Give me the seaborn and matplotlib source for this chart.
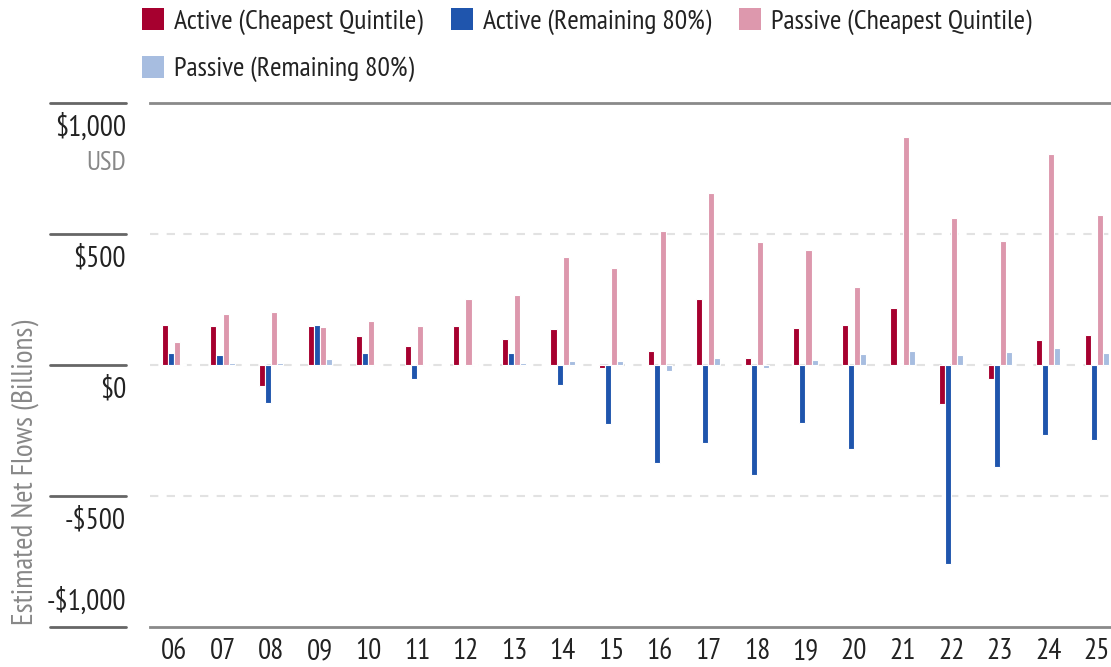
import math
import matplotlib
matplotlib.use("Agg")
import matplotlib.pyplot as plt
import seaborn as sns
import pandas as pd
from matplotlib.patches import Patch
from matplotlib import font_manager as fm

years = ["06", "07", "08", "09", "10", "11", "12", "13", "14", "15",
         "16", "17", "18", "19", "20", "21", "22", "23", "24", "25"]
active_cheap = [154, 147, -80, 150, 112, 74, 150, 99, 137, -10,
                53, 253, 27, 140, 154, 219, -150, -52, 94, 116]
active_rest = [44, 38, -146, 152, 47, -53, 3, 46, -75, -225,
               -374, -297, -419, -221, -319, 3, -761, -389, -268, -288]
passive_cheap = [89, 196, 201, 144, 168, 150, 253, 269, 414, 369,
                 510, 655, 468, 438, 298, 872, 561, 472, 807, 574]
passive_rest = [4, 7, 6, 23, 3, 2, 2, 8, 15, 14,
                -22, 25, -11, 20, 43, 53, 37, 50, 65, 47]

series_names = ["Active (Cheapest Quintile)", "Active (Remaining 80%)",
                "Passive (Cheapest Quintile)", "Passive (Remaining 80%)"]
colors = ["#A6002F", "#1F55AD", "#DD98AD", "#A7BDE0"]
ytick_vals = [1000, 500, 0, -500, -1000]
ytick_labels = ["$1,000", "$500", "$0", "-$500", "-$1,000"]

rows = []
for name, vals in zip(series_names, [active_cheap, active_rest, passive_cheap, passive_rest]):
    for y, v in zip(years, vals):
        rows.append({"year": y, "value": v, "series": name})
df = pd.DataFrame(rows)

sns.set_theme(style="white")
plt.rcParams["font.family"] = ["DejaVu Sans"]

SAMPLE = "Active (Cheapest Quintile)"
TARGET_W = 248.0
TARGET_FS = 20.0
tmp = plt.figure(figsize=(8, 2), dpi=100)
rend = tmp.canvas.get_renderer()


def width_px(fp):
    t = tmp.text(0, 0.5, SAMPLE, fontproperties=fp)
    w = t.get_window_extent(renderer=rend).width
    t.remove()
    return w


best = None
for f in fm.fontManager.ttflist:
    nm = f.name.lower()
    fn = f.fname.lower()
    if "mono" in nm or "mono" in fn:
        continue
    st = str(f.stretch).lower()
    if not ("condensed" in st or "narrow" in nm or "condensed" in nm or "condensed" in fn):
        continue
    if f.style != "normal" or f.weight not in (400, "normal", "regular"):
        continue
    if any(k in fn for k in ("bold", "italic", "light", "medium", "thin", "black", "semibold")):
        continue
    try:
        w = width_px(fm.FontProperties(fname=f.fname, size=19))
    except Exception:
        continue
    need = 19 * TARGET_W / w
    score = abs(math.log(need / TARGET_FS))
    if best is None or score < best[0]:
        best = (score, need, f.fname)

if best is not None:
    _, fs, FNAME = best
    base = dict(fname=FNAME)
else:
    base = dict(family="DejaVu Sans")
    fs = 19 * TARGET_W / width_px(fm.FontProperties(size=19, **base))
plt.close(tmp)
fpx = fs * 100 / 72


def FP(size):
    return fm.FontProperties(size=size, **base)


fig = plt.figure(figsize=(11.11, 6.67), dpi=100)
ax = fig.add_axes([150 / 1111, 1 - 627 / 667, 1 - 150 / 1111, (627 - 103) / 667])

sns.barplot(data=df, x="year", y="value", hue="series", hue_order=series_names,
            palette=colors, width=0.5, dodge=True, edgecolor="white",
            linewidth=0.8, ax=ax, legend=True, saturation=1)

ax.set_ylim(-1000, 1000)
ax.set_xlim(-0.494, 19.29)
for v in [500, 0, -500]:
    ax.axhline(v, color="#e2e2e2", lw=1.5, ls=(0, (4, 4)), zorder=0)

for s in ["left", "right"]:
    ax.spines[s].set_visible(False)
for s in ["top", "bottom"]:
    ax.spines[s].set_color("#8a8a8a")
    ax.spines[s].set_linewidth(2)

ax.set_yticks([])
ax.set_xlabel("")
ax.set_ylabel("")
ax.tick_params(axis="x", length=0, pad=8, labelcolor="#222222")
for lab in ax.get_xticklabels():
    lab.set_fontproperties(FP(fs * 1.05))

trans = ax.get_yaxis_transform()
x0 = (50 - 150) / 958
x1 = (126 - 150) / 958
for v, lab in zip(ytick_vals, ytick_labels):
    ax.plot([x0, x1], [v, v], transform=trans, color="#666666", lw=2, clip_on=False)
    off = 95 if v == -1000 else -95
    ax.text(x1, v + off, lab, transform=trans, ha="right", va="center",
            fontproperties=FP(fs * 1.05), color="#222222")
ax.text(x1, 1000 - 228, "USD", transform=trans, ha="right", va="center",
        fontproperties=FP(fs * 0.97), color="#888888")

fig.text(25 / 1111, 1 - 625 / 667, "Estimated Net Flows (Billions)", rotation=90,
         ha="center", va="bottom", fontproperties=FP(fs * 1.06), color="#888888")

ax.get_legend().remove()
handles = [Patch(facecolor=c, edgecolor="none") for c in colors]
order = [0, 3, 1, 2]
bp = 0.3
fig.legend([handles[i] for i in order], [series_names[i] for i in order],
           ncol=3, loc="upper left",
           bbox_to_anchor=((142 - bp * fpx) / 1111, 1 - (8 - bp * fpx) / 667),
           frameon=False, prop=FP(fs), handlelength=22 / fpx, handleheight=24 / fpx,
           handletextpad=10 / fpx, columnspacing=28 / fpx, labelspacing=0.75,
           borderpad=bp, labelcolor="#222222", borderaxespad=0)

fig.savefig("out.png", dpi=100)
